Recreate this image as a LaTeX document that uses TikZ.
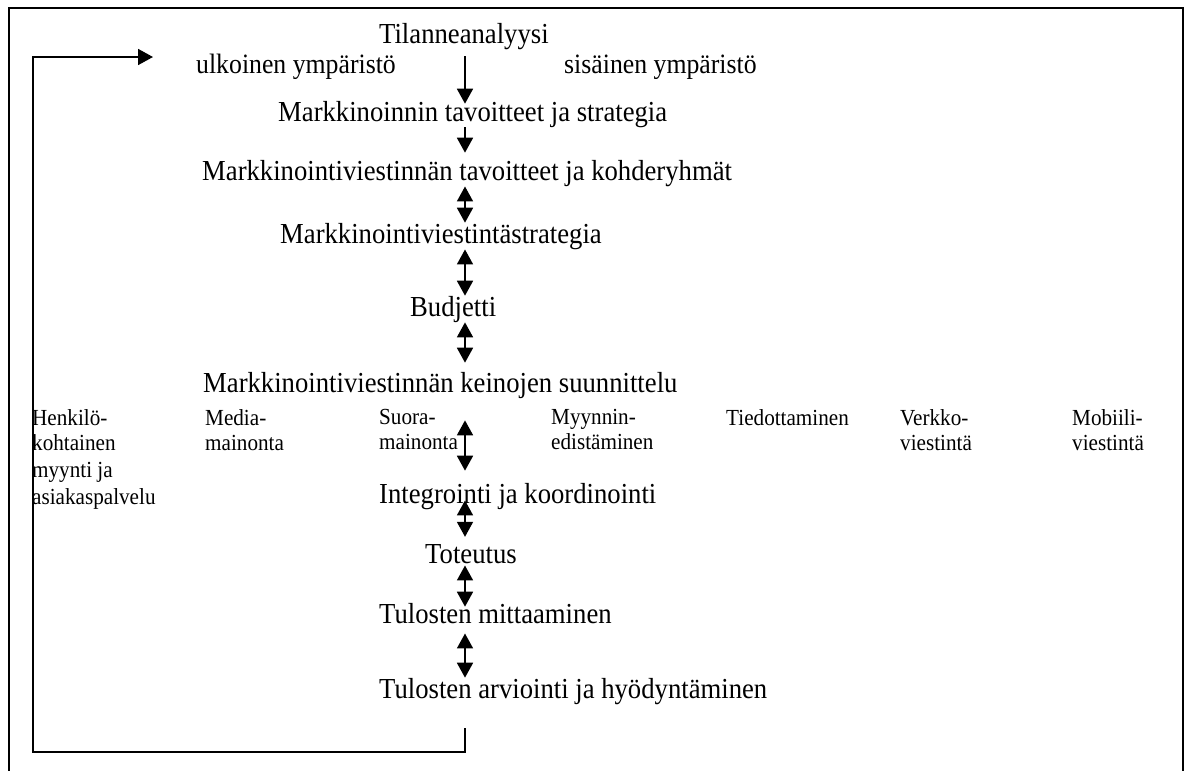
\documentclass[tikz,border=0pt]{standalone}
\usepackage{fontspec}
\setmainfont[FakeStretch=0.92]{Liberation Serif}
\usetikzlibrary{positioning,arrows.meta}

\begin{document}
\begin{tikzpicture}[
    x=1pt, y=-1pt,
    stage/.style={
        anchor=base west,
        inner sep=0pt,
        font=\fontsize{29}{34}\selectfont
    },
    side/.style={
        stage,
        font=\fontsize{28}{33}\selectfont
    },
    tool/.style={
        anchor=north west,
        inner sep=0pt,
        align=left,
        font=\fontsize{23}{25}\selectfont
    },
    oneway/.style={
        line width=1.8pt,
        -{Triangle[length=15pt,width=16pt]}
    },
    twoway/.style={
        line width=1.8pt,
        {Triangle[length=15pt,width=16pt]}-{Triangle[length=15pt,width=16pt]}
    }
]
\useasboundingbox (0,0) rectangle (1192,771);

% frame
\draw[line width=1.8pt] (9,771) |- (1183,8) -- (1183,771);

\coordinate (axis) at (465,0);

\node[stage] (situation) at (379,43) {Tilanneanalyysi};
\node[side] (external) at (196,73) {ulkoinen ympäristö};
\node[side] (internal) at (564,73) {sisäinen ympäristö};
\node[stage] (goals) at (278,121) {Markkinoinnin tavoitteet ja strategia};
\node[stage] (commgoals) at (202,180) {Markkinointiviestinnän tavoitteet ja kohderyhmät};
\node[stage] (commstrat) at (280,243) {Markkinointiviestintästrategia};
\node[stage] (budget) at (410,316) {Budjetti};
\node[stage] (means) at (203,392) {Markkinointiviestinnän keinojen suunnittelu};

\node[tool] (personal) at (32,409) {Henkilö-\\kohtainen\\[2pt]myynti ja\\[2pt]asiakaspalvelu};
\node[tool] (media) at (205,409) {Media-\\mainonta};
\node[tool] (direct) at (379,409) {Suora-\\mainonta};
\node[tool] (promo) at (551,409) {Myynnin-\\edistäminen};
\node[tool] (pr) at (726,409) {Tiedottaminen};
\node[tool] (web) at (900,409) {Verkko-\\viestintä};
\node[tool] (mobile) at (1072,409) {Mobiili-\\viestintä};

\node[stage] (integration) at (379,503) {Integrointi ja koordinointi};
\node[stage] (execution) at (425,563) {Toteutus};
\node[stage] (measure) at (379,623) {Tulosten mittaaminen};
\node[stage] (evaluate) at (379,698) {Tulosten arviointi ja hyödyntäminen};

\draw[oneway, shorten <=7pt, shorten >=-3pt] (situation.south -| axis) -- (goals.north -| axis);
\draw[oneway, shorten >=7pt] (goals.south -| axis) -- (commgoals.north -| axis);
\draw[twoway] (commgoals.south -| axis) -- (commstrat.north -| axis);
\draw[twoway] (commstrat.south -| axis) -- (budget.north -| axis);
\draw[twoway, shorten >=9pt] (budget.south -| axis) -- (means.north -| axis);
\draw[twoway, shorten <=22pt, shorten >=12pt] (means.south -| axis) -- (integration.north -| axis);
\draw[twoway, shorten <=-9pt, shorten >=7pt] (integration.south -| axis) -- (execution.north -| axis);
\draw[twoway, shorten <=2pt, shorten >=-4pt] (execution.south -| axis) -- (measure.north -| axis);
\draw[twoway, shorten <=10pt] (measure.south -| axis) -- (evaluate.north -| axis);

% feedback loop
\coordinate (loopcorner) at (33,752);
\coordinate (loopend) at (153,57);
\draw[oneway, shorten <=24pt] (evaluate.south -| axis) |- (loopcorner) |- (loopend);

\end{tikzpicture}
\end{document}
